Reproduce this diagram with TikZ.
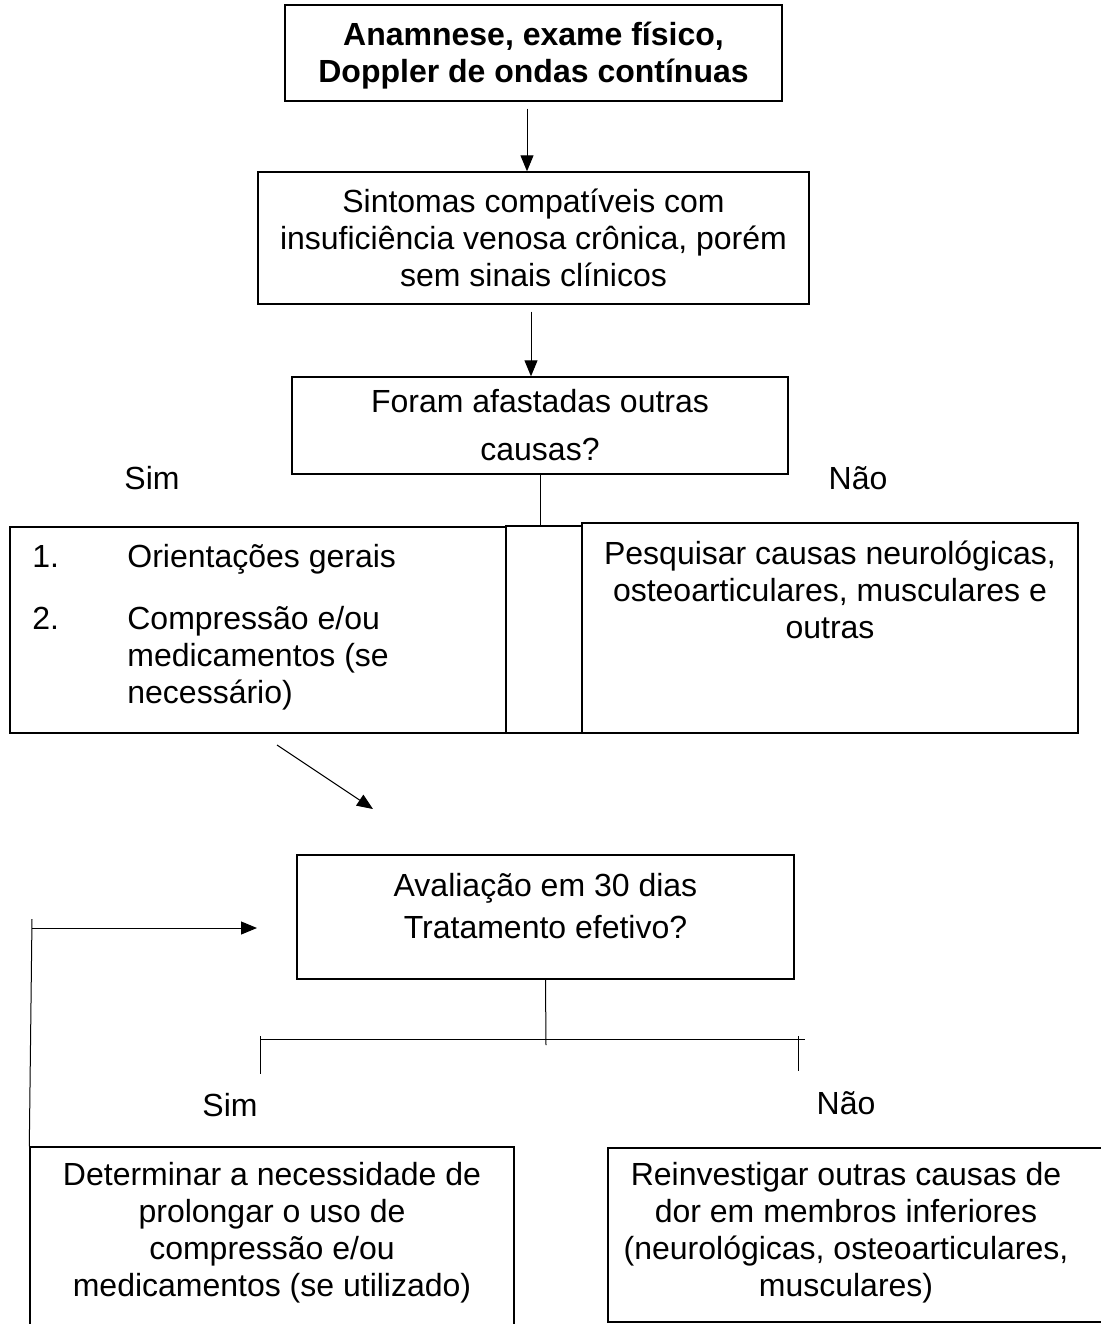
\documentclass[tikz,border=0pt]{standalone}
\usepackage{fontspec}
\setmainfont{Liberation Sans}
\usetikzlibrary{arrows.meta,positioning}

\tikzset{
  box/.style={draw, line width=0.7pt, inner sep=0pt},
  txt/.style={align=center, font=\fontsize{16}{18.5}\selectfont},
  link/.style={line width=0.5pt},
  arr/.style={link, -{Triangle[width=6.5pt,length=8pt]}},
}

\begin{document}
\begin{tikzpicture}[x=0.5pt, y=-0.5pt]
      \useasboundingbox (0,0) rectangle (1101,1324);
      \clip (0,0) rectangle (1101,1324);

      % Top boxes
      \node[box, minimum width=248.5pt, minimum height=48pt] (inicio) at (533.5,53) {};
      \node[txt, font=\bfseries\fontsize{16}{18.5}\selectfont] (iniciotxt) at (533.5,56) {Anamnese, exame físico,\\Doppler de ondas contínuas};
      \node[box, txt, minimum width=275.5pt, minimum height=66pt] (sintomas) at (533.5,238) {Sintomas compatíveis com\\insuficiência venosa crônica, porém\\sem sinais clínicos};
      \node[box, txt, minimum width=248pt, minimum height=48.5pt] (causas) at (540,425.5) {Foram afastadas outras\\[5.5pt]causas?};
      \draw[arr] ([xshift=-3.25pt,yshift=-3.5pt]inicio.south) -- ([xshift=-3.25pt]sintomas.north);
      \draw[arr] ([xshift=-1.25pt,yshift=-3.5pt]sintomas.south) -- ([xshift=-1.25pt]sintomas.south |- causas.north);

      % First answer
      \node[txt] (sim1) at (152,478) {Sim};
      \node[txt] (nao1) at (858,478) {Não};
      \node[box, minimum width=248pt, minimum height=103pt] (orient) at (258,630) {};
      \node[box, minimum width=38pt, minimum height=103.5pt] (meio) at (544,629.5) {};
      \node[box, minimum width=248pt, minimum height=105pt] (pesquisar) at (830,628) {};
      \node[font=\fontsize{16}{18.5}\selectfont, anchor=north west, inner sep=0pt] (lista) at (32,541) {\begin{tabular}{@{}p{47.5pt}@{}l@{}}1.&Orientações gerais\\[12.5pt]2.&Compressão e/ou\\&medicamentos (se\\&necessário)\end{tabular}};
      \node[txt] (pesqtxt) at (830,590) {Pesquisar causas neurológicas,\\osteoarticulares, musculares e\\outras};
      \draw[link] (causas.south) -- (causas.south |- meio.north);

      \coordinate (d1) at (277,745);
      \coordinate (d2) at (373,809);
      \draw[arr] (d1) -- (d2);

      % Evaluation
      \node[box, minimum width=248.5pt, minimum height=62pt] (aval) at (545.5,917) {};
      \node[txt] (avaltxt) at (545.5,906) {Avaliação em 30 dias\\[2.5pt]Tratamento efetivo?};
      \coordinate (split) at (546,1045);
      \coordinate (ramoS) at (260,1039);
      \coordinate (ramoN) at (805,1039);
      \draw[link] (aval.south) -- (split);
      \draw[link] (ramoS) -- (ramoN);
      \draw[link] (260,1036) -- (260,1074);
      \draw[link] (798,1036) -- (798,1071);
      \node[txt] (sim2) at (230,1105) {Sim};
      \node[txt] (nao2) at (846,1103) {Não};

      % Bottom boxes
      \node[box, minimum width=242pt, minimum height=96.5pt] (determinar) at (272,1243.5) {};
      \node[box, minimum width=256pt, minimum height=87pt] (reinvest) at (864,1235) {};
      \node[txt] (dettxt) at (272,1233) {Determinar a necessidade de\\prolongar o uso de\\compressão e/ou\\medicamentos (se utilizado)};
      \node[txt] (reintxt) at (846,1233) {Reinvestigar outras causas de\\dor em membros inferiores\\(neurológicas, osteoarticulares,\\musculares)};

      % Loop back
      \coordinate (volta) at (32,919);
      \coordinate (voltaA) at (32,928);
      \coordinate (voltaB) at (257,928);
      \draw[link] (determinar.north west) -- (volta);
      \draw[arr] (voltaA) -- (voltaB);
    \end{tikzpicture}
\end{document}
